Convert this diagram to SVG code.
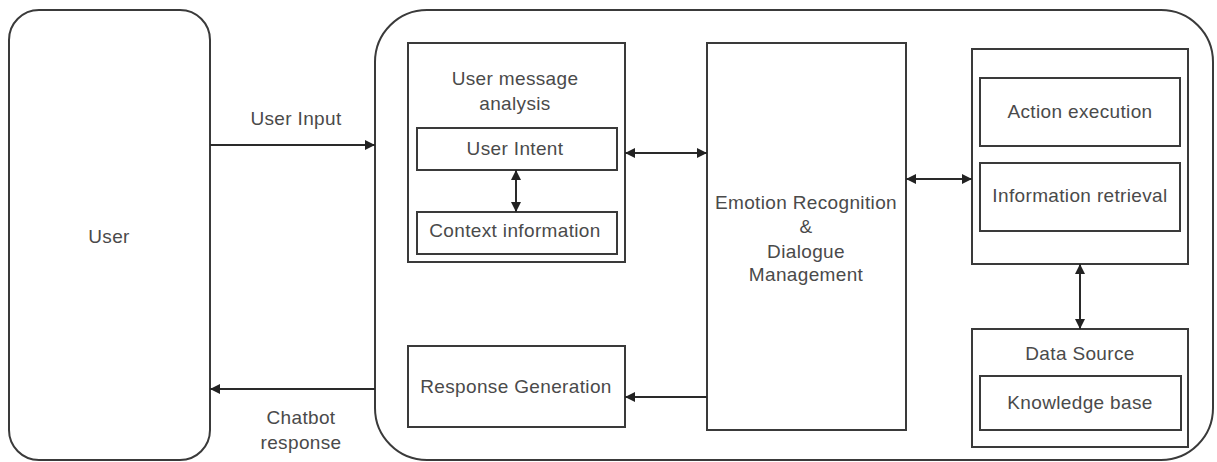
<svg xmlns="http://www.w3.org/2000/svg" width="1217" height="462" viewBox="0 0 1217 462">
<defs>
<marker id="ah" viewBox="0 0 10 10" refX="10" refY="5" markerWidth="11" markerHeight="10" markerUnits="userSpaceOnUse" orient="auto-start-reverse">
<path d="M0,0 L10,5 L0,10 Z" fill="#222"/>
</marker>
<style>
.box{fill:#fff;stroke:#3a3a3a;stroke-width:2}
.t{font-family:"Liberation Sans",Arial,sans-serif;font-size:19px;fill:#4a4a4a;text-anchor:middle;letter-spacing:0.35px}
.c{stroke:#2a2a2a;stroke-width:2;fill:none}
</style>
</defs>
<rect width="1217" height="462" fill="#fff"/>
<g id="user">
<rect class="box" x="9" y="10" width="201" height="450" rx="30" ry="30"/>
<text class="t" x="109" y="243">User</text>
</g>
<g id="chatbot">
<rect class="box" x="375" y="10" width="838" height="450" rx="52" ry="52"/>
</g>
<g id="analysis">
<rect class="box" x="408" y="43" width="217" height="219"/>
<text class="t" x="515" y="85">User message</text>
<text class="t" x="515" y="110">analysis</text>
</g>
<g id="intent">
<rect class="box" x="417" y="128" width="200" height="42"/>
<text class="t" x="515" y="155">User Intent</text>
</g>
<g id="context">
<rect class="box" x="417" y="212" width="200" height="42"/>
<text class="t" x="515" y="237">Context information</text>
</g>
<g id="emotion">
<rect class="box" x="707" y="43" width="199" height="387"/>
<text class="t" x="806" y="209">Emotion Recognition</text>
<text class="t" x="806" y="233">&amp;</text>
<text class="t" x="806" y="258">Dialogue</text>
<text class="t" x="806" y="281">Management</text>
</g>
<g id="actions">
<rect class="box" x="972" y="49" width="216" height="215"/>
</g>
<g id="action-exec">
<rect class="box" x="980" y="78" width="200" height="68"/>
<text class="t" x="1080" y="118">Action execution</text>
</g>
<g id="info-retrieval">
<rect class="box" x="980" y="163" width="200" height="68"/>
<text class="t" x="1080" y="202">Information retrieval</text>
</g>
<g id="data-source">
<rect class="box" x="972" y="329" width="216" height="118"/>
<text class="t" x="1080" y="360">Data Source</text>
</g>
<g id="knowledge">
<rect class="box" x="980" y="376" width="201" height="54"/>
<text class="t" x="1080" y="409">Knowledge base</text>
</g>
<g id="response">
<rect class="box" x="408" y="346" width="217" height="81"/>
<text class="t" x="516" y="393">Response Generation</text>
</g>
<g id="connectors">
<line class="c" x1="210" y1="145" x2="375" y2="145" marker-end="url(#ah)"/>
<text class="t" x="296" y="125">User Input</text>
<line class="c" x1="375" y1="389" x2="210" y2="389" marker-end="url(#ah)"/>
<text class="t" x="301" y="424">Chatbot</text>
<text class="t" x="301" y="449">response</text>
<line class="c" x1="516" y1="170" x2="516" y2="212" marker-start="url(#ah)" marker-end="url(#ah)"/>
<line class="c" x1="625" y1="153" x2="707" y2="153" marker-start="url(#ah)" marker-end="url(#ah)"/>
<line class="c" x1="906" y1="179" x2="972" y2="179" marker-start="url(#ah)" marker-end="url(#ah)"/>
<line class="c" x1="1080" y1="264" x2="1080" y2="329" marker-start="url(#ah)" marker-end="url(#ah)"/>
<line class="c" x1="707" y1="397" x2="625" y2="397" marker-end="url(#ah)"/>
</g>
</svg>
